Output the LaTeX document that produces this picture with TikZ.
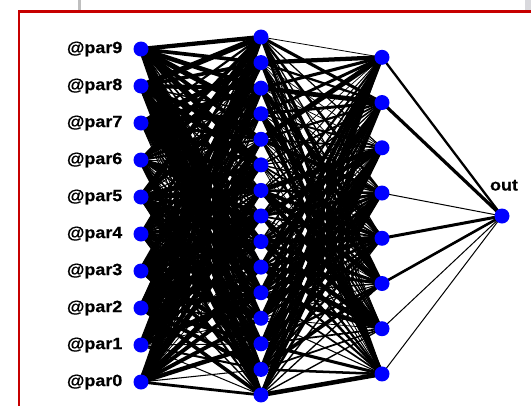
\documentclass[tikz,border=0pt]{standalone}
\usepackage{fontspec}
\newfontfamily\labfont[FakeStretch=1.1,BoldFeatures={FakeBold=0.6}]{Liberation Sans}
\pgfdeclarelayer{background}
\pgfsetlayers{background,main}
\begin{document}
\begin{tikzpicture}[x=1pt,y=-1pt,
  neuron/.style={circle,fill=blue,inner sep=0pt,minimum size=15pt},
  lab/.style={font=\labfont\bfseries\fontsize{16.3}{19}\selectfont,inner sep=0pt},
  link/.style={draw=black,line cap=round}]
\useasboundingbox (0,0) rectangle (531,405);
% window edges above the frame
\fill[black!25] (77.5,0) rectangle (80.5,10);
\fill[blue!10!black!15] (525,0) rectangle (531,10);
% frame
\draw[line width=2.6pt, draw=red!78!black] (19,415) |- (545,11.3);

% input layer
\foreach \i in {0,...,9}{
  \node[neuron] (a\i) at (141,382-37*\i) {};
  \node[lab,anchor=east] (la\i) at (122.5,382-37*\i) {@par\i};
}
% first hidden layer
\foreach \j in {0,...,14}
  \node[neuron] (b\j) at (261,37+25.57*\j) {};
% second hidden layer
\foreach \k in {0,...,7}
  \node[neuron] (c\k) at (382,57.3+45.24*\k) {};
% output
\node[neuron] (o) at (502,216) {};
\node[lab,anchor=base] (lo) at (504,190.5) {out};

% weighted connections
\pgfmathsetseed{4711}
\begin{pgfonlayer}{background}
\foreach \i in {0,...,9}{
  \foreach \j in {0,...,14}{
    \pgfmathsetmacro\w{0.8+5.0*pow(rnd,1.2)}
    \draw[link,line width=\w pt] (a\i.center) -- (b\j.center);
  }
}
\foreach \j in {0,...,14}{
  \foreach \k in {0,...,7}{
    \pgfmathsetmacro\w{0.7+4.3*pow(rnd,1.3)}
    \draw[link,line width=\w pt] (b\j.center) -- (c\k.center);
  }
}
\foreach \k/\w in {0/2.3,1/3.2,3/1.0,4/3.0,5/2.6,6/1.0,7/1.0}
  \draw[link,line width=\w pt] (c\k.center) -- (o.center);
\end{pgfonlayer}
\end{tikzpicture}
\end{document}
